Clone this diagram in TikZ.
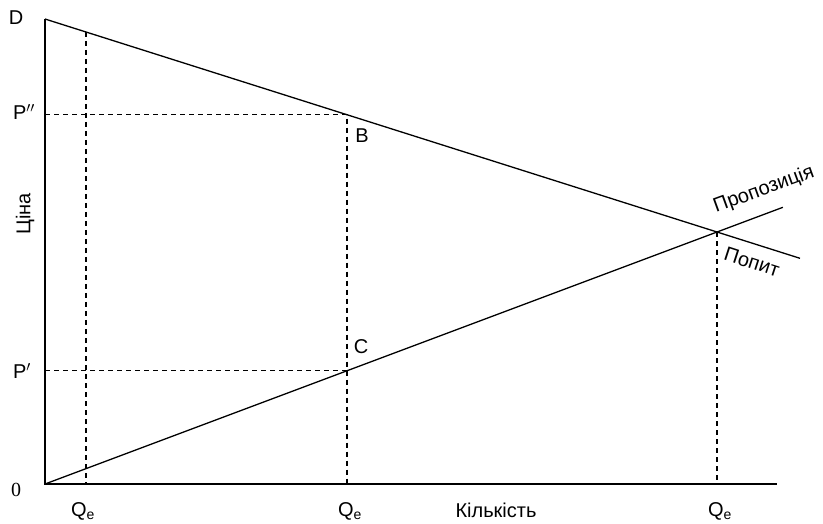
\documentclass[tikz,border=0pt]{standalone}
\usepackage{fontspec}
\setmainfont{Liberation Sans}
\newfontfamily\zerofont{Liberation Serif}
\usetikzlibrary{calc}

\begin{document}
\begin{tikzpicture}[x=1pt,y=-1pt,
    axis/.style={line width=1.6pt},
    curve/.style={line width=1.3pt},
    guide/.style={line width=1.3pt,dash pattern=on 5pt off 4pt},
    lbl/.style={inner sep=0pt,font=\fontsize{20}{22}\selectfont}]
  \useasboundingbox (0,0) rectangle (823,523);

  % axes
  \coordinate (O) at (45,484);
  \coordinate (D) at (45,19);
  \coordinate (xend) at (777,484);
  \draw[axis] (D) -- (O) -- (xend);

  % demand and supply
  \coordinate (E) at (717,232);
  \coordinate (dend) at ($(D)!1.1235!(E)$);
  \coordinate (send) at ($(O)!1.098!(E)$);
  \draw[curve] (D) -- (dend);
  \draw[curve] (O) -- (send);

  % points on the lines
  \coordinate (A) at ($(D)!0.061!(E)$);
  \coordinate (B) at ($(D)!0.4494!(E)$);
  \coordinate (C) at ($(O)!0.4494!(E)$);

  % guides
  \draw[guide] (A) -- (A |- O);
  \draw[guide] (B -| O) -- (B) -- (B |- O);
  \draw[guide] (C -| O) -- (C);
  \draw[guide] (E) -- (E |- O);

  % labels
  \node[lbl] (lD) at (16,18) {D};
  \node[lbl] (lPpp) at (24,112) {P$''$};
  \node[lbl] (lPp) at (22,371) {P$'$};
  \node[lbl,font=\zerofont\fontsize{20}{22}\selectfont] (l0) at (16,490) {0};
  \node[lbl,rotate=90] (lprice) at (25,214) {Ціна};
  \node[lbl] (lB) at (362,136) {B};
  \node[lbl] (lC) at (361,347) {C};
  \node[lbl] (lqty) at (496,510) {Кількість};
  \node[lbl] (lq1) at (83,511) {Q\textsubscript{e}};
  \node[lbl] (lq2) at (350,511) {Q\textsubscript{e}};
  \node[lbl] (lq3) at (720,511) {Q\textsubscript{e}};
  \node[lbl,rotate=20] (lsup) at (764,190) {Пропозиція};
  \node[lbl,rotate=-18] (ldem) at (752,262) {Попит};
\end{tikzpicture}
\end{document}
